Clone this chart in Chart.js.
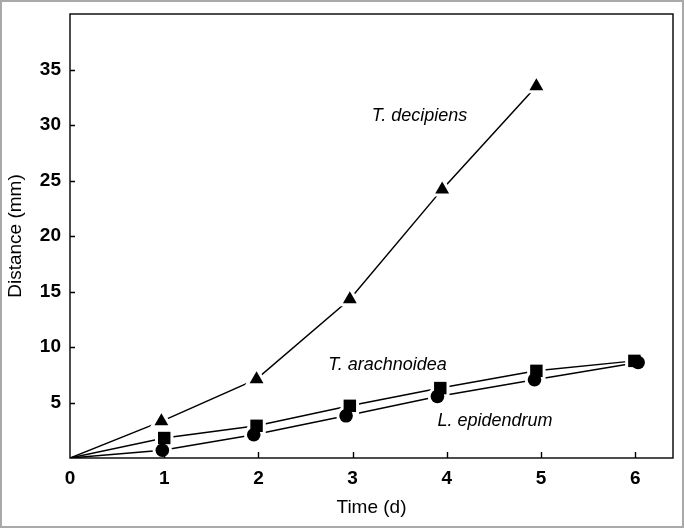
<!DOCTYPE html>
<html>
<head>
<meta charset="utf-8">
<script src="https://cdn.jsdelivr.net/npm/chart.js@4.4.0/dist/chart.umd.min.js"></script>
<style>
  html, body { margin: 0; padding: 0; background: #fff; }
  #wrap { width: 684px; height: 528px; position: relative; }
</style>
</head>
<body>
<div id="wrap"><canvas id="chart"></canvas></div>
<script>
// days (x) and distance in mm (y) for each species
const decipiensDays = [0, 0.97, 1.98, 2.97, 3.95, 4.95];
const decipiensDist = [0, 3.3, 7.1, 14.3, 24.2, 33.5];
const arachnoideaDays = [0, 1.0, 1.98, 2.97, 3.93, 4.95, 5.99];
const arachnoideaDist = [0, 1.8, 2.9, 4.7, 6.3, 7.85, 8.75];
const epidendrumDays = [0, 0.98, 1.95, 2.93, 3.9, 4.93, 6.03];
const epidendrumDist = [0, 0.7, 2.1, 3.8, 5.55, 7.05, 8.6];

const xTicks = [0, 1, 2, 3, 4, 5, 6];
const yTicks = [5, 10, 15, 20, 25, 30, 35];

// series labels, placed in data coordinates
const seriesLabels = [
  { text: 'T. decipiens', x: 3.71, y: 30.8 },
  { text: 'T. arachnoidea', x: 3.37, y: 8.4 },
  { text: 'L. epidendrum', x: 4.51, y: 3.3 },
];

const series = [
  { name: 'T. decipiens', days: decipiensDays, dist: decipiensDist, style: 'triangle', r: 8 },
  { name: 'T. arachnoidea', days: arachnoideaDays, dist: arachnoideaDist, style: 'rect', r: 8.8 },
  { name: 'L. epidendrum', days: epidendrumDays, dist: epidendrumDist, style: 'circle', r: 6.8 },
];

const toPoints = (s) => s.days.map((d, i) => ({ x: d, y: s.dist[i] }));
const radii = (s) => s.days.map((d) => (d === 0 ? 0 : s.r));

const datasets = [];
// lines
series.forEach((s) => {
  datasets.push({
    label: s.name,
    data: toPoints(s),
    showLine: true,
    borderColor: '#000',
    borderWidth: 1.5,
    pointRadius: 0,
    fill: false,
    order: 3,
  });
});
// markers with white halo to open small gaps in the lines
series.forEach((s) => {
  datasets.push({
    data: toPoints(s),
    showLine: false,
    pointStyle: s.style,
    pointRadius: radii(s),
    pointBackgroundColor: '#000',
    pointBorderColor: '#fff',
    pointBorderWidth: 6,
    order: 2,
  });
});
// solid markers on top
series.forEach((s) => {
  datasets.push({
    data: toPoints(s),
    showLine: false,
    pointStyle: s.style,
    pointRadius: radii(s),
    pointBackgroundColor: '#000',
    pointBorderColor: '#000',
    pointBorderWidth: 0,
    order: 1,
  });
});

const framePlugin = {
  id: 'frame',
  beforeDraw(chart) {
    const ctx = chart.ctx;
    ctx.save();
    ctx.fillStyle = '#fff';
    ctx.fillRect(0, 0, chart.width, chart.height);
    ctx.strokeStyle = '#a9a9a9';
    ctx.lineWidth = 2;
    ctx.strokeRect(1, 1, chart.width - 2, chart.height - 2);
    ctx.restore();
  },
  afterDraw(chart) {
    const { ctx, chartArea: a, scales } = chart;
    ctx.save();
    ctx.strokeStyle = '#000';
    ctx.lineWidth = 1.4;
    ctx.strokeRect(a.left, a.top, a.right - a.left, a.bottom - a.top);
    ctx.beginPath();
    yTicks.forEach((v) => {
      const y = Math.round(scales.y.getPixelForValue(v)) + 0.5;
      ctx.moveTo(a.left, y);
      ctx.lineTo(a.left + 5, y);
    });
    xTicks.forEach((v) => {
      if (v === 0) return;
      const x = Math.round(scales.x.getPixelForValue(v)) + 0.5;
      ctx.moveTo(x, a.bottom);
      ctx.lineTo(x, a.bottom - 6);
    });
    ctx.stroke();

    ctx.fillStyle = '#000';
    ctx.font = 'italic 18px "Liberation Sans", Arial, sans-serif';
    ctx.textAlign = 'center';
    ctx.textBaseline = 'middle';
    seriesLabels.forEach((l) => {
      ctx.fillText(l.text, scales.x.getPixelForValue(l.x), scales.y.getPixelForValue(l.y));
    });
    ctx.restore();
  },
};

const tickFont = { family: '"Liberation Sans", Arial, sans-serif', size: 19, weight: 'bold' };
const titleFont = { family: '"Liberation Sans", Arial, sans-serif', size: 19 };

new Chart(document.getElementById('chart'), {
  type: 'scatter',
  data: { datasets },
  options: {
    responsive: true,
    maintainAspectRatio: false,
    animation: false,
    events: [],
    layout: { autoPadding: false, padding: { top: 14, right: 11, left: 0, bottom: 0 } },
    plugins: {
      legend: { display: false },
      tooltip: { enabled: false },
    },
    scales: {
      x: {
        type: 'linear',
        min: 0,
        max: 6.4,
        afterBuildTicks: (scale) => { scale.ticks = xTicks.map((v) => ({ value: v })); },
        afterFit: (scale) => {
          scale.height = 70;
          scale.paddingLeft = 0;
          scale.paddingRight = 0;
        },
        grid: { display: false, drawTicks: false },
        border: { display: false },
        ticks: { padding: 9, color: '#000', font: tickFont },
        title: {
          display: true,
          text: 'Time (d)',
          color: '#000',
          padding: { top: 0, bottom: 9 },
          font: titleFont,
        },
      },
      y: {
        min: 0,
        max: 40,
        afterBuildTicks: (scale) => { scale.ticks = yTicks.map((v) => ({ value: v })); },
        afterFit: (scale) => {
          scale.width = 70;
          scale.paddingTop = 0;
          scale.paddingBottom = 0;
        },
        grid: { display: false, drawTicks: false },
        border: { display: false },
        ticks: { padding: 9, color: '#000', font: tickFont },
        title: {
          display: true,
          text: 'Distance (mm)',
          color: '#000',
          padding: { top: 4, bottom: 0 },
          font: titleFont,
        },
      },
    },
  },
  plugins: [framePlugin],
});
</script>
</body>
</html>
